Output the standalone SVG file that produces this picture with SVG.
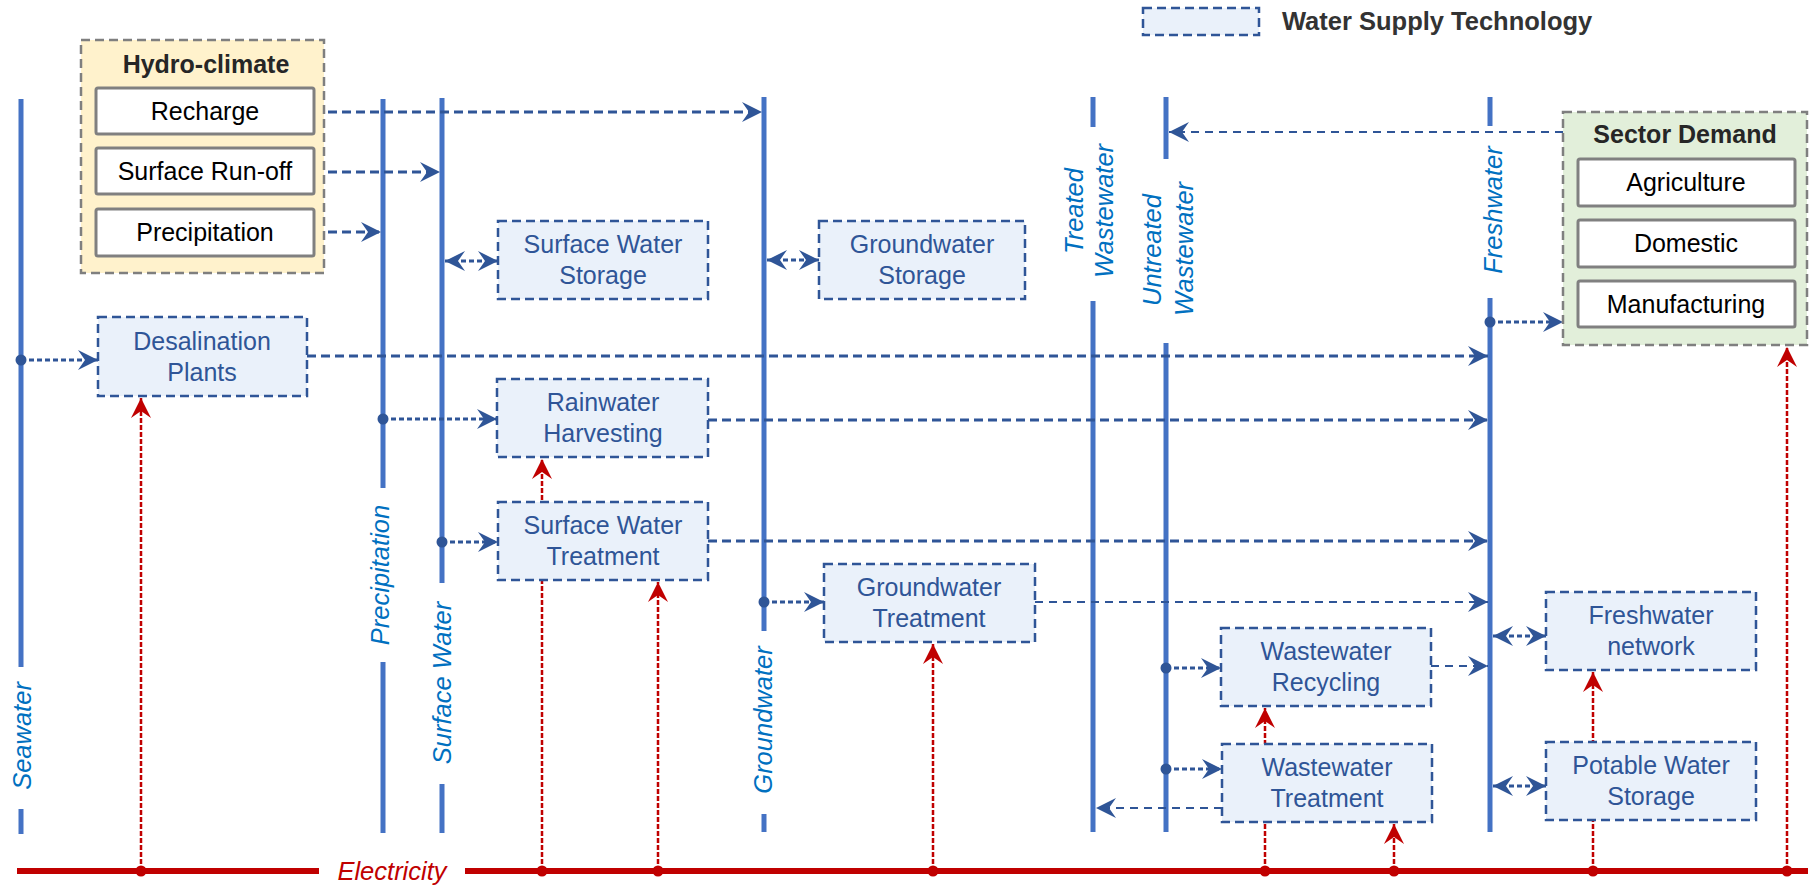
<svg xmlns="http://www.w3.org/2000/svg" width="1812" height="887" viewBox="0 0 1812 887">
  <style>
    text { font-family: "Liberation Sans", Arial, sans-serif; }
    .bus { stroke: #4472C4; stroke-width: 5; fill: none; }
    .buslabel { font-size: 25.5px; font-style: italic; fill: #0070C0; }
    .tech { fill: #EAF1FA; stroke: #2F5597; stroke-width: 2.5; stroke-dasharray: 9 5; }
    .techtxt { font-size: 25px; fill: #2F5597; text-anchor: middle; }
    .group { stroke: #7F7F7F; stroke-width: 2.5; stroke-dasharray: 9 5; }
    .item { fill: #FFFFFF; stroke: #808080; stroke-width: 3; }
    .itemtxt { font-size: 25px; fill: #000000; text-anchor: middle; }
    .title { font-size: 25px; font-weight: bold; fill: #262626; text-anchor: middle; }
    .flow { fill: none; stroke: #2F5597; stroke-width: 3; stroke-dasharray: 9 5; }
    .flow.thin { stroke-width: 2; stroke-dasharray: 8 6; }
    .flow.short { stroke-dasharray: 5 3; }
    .power { fill: none; stroke: #C00000; stroke-width: 2.5; stroke-dasharray: 5 2; marker-end: url(#headRed); }
    .dot { fill: #2F5597; }
    .rdot { fill: #C00000; }
  </style>
  <defs>
    <marker id="head" viewBox="0 0 20 20" refX="20" refY="10" markerWidth="20" markerHeight="20" markerUnits="userSpaceOnUse" orient="auto-start-reverse">
      <path d="M0,0 L20,10 L0,20 L7,10 Z" fill="#2F5597"/>
    </marker>
    <marker id="headRed" viewBox="0 0 20 20" refX="20" refY="10" markerWidth="20" markerHeight="20" markerUnits="userSpaceOnUse" orient="auto">
      <path d="M0,0 L20,10 L0,20 L7,10 Z" fill="#C00000"/>
    </marker>
  </defs>

  <rect width="1812" height="887" fill="#FFFFFF"/>

  <!-- legend -->
  <g id="legend">
    <rect class="tech" x="1143" y="8" width="116" height="27"/>
    <text x="1282" y="30" font-size="25.5" font-weight="bold" fill="#333333">Water Supply Technology</text>
  </g>

  <!-- water carrier buses -->
  <g id="bus-seawater">
    <path class="bus" d="M21,99 V667 M21,809 V834"/>
    <text class="buslabel" transform="translate(31,736) rotate(-90)" text-anchor="middle">Seawater</text>
  </g>
  <g id="bus-precipitation">
    <path class="bus" d="M383,99 V488 M383,662 V833"/>
    <text class="buslabel" transform="translate(389,575) rotate(-90)" text-anchor="middle">Precipitation</text>
  </g>
  <g id="bus-surface-water">
    <path class="bus" d="M442,98 V583 M442,784 V833"/>
    <text class="buslabel" transform="translate(451,683) rotate(-90)" text-anchor="middle">Surface Water</text>
  </g>
  <g id="bus-groundwater">
    <path class="bus" d="M764,97 V631 M764,814 V832"/>
    <text class="buslabel" transform="translate(772,720) rotate(-90)" text-anchor="middle">Groundwater</text>
  </g>
  <g id="bus-treated-wastewater">
    <path class="bus" d="M1093,97 V127 M1093,301 V832"/>
    <text class="buslabel" transform="translate(1083,211) rotate(-90)" text-anchor="middle">Treated</text>
    <text class="buslabel" transform="translate(1113,211) rotate(-90)" text-anchor="middle">Wastewater</text>
  </g>
  <g id="bus-untreated-wastewater">
    <path class="bus" d="M1166,97 V159 M1166,343 V832"/>
    <text class="buslabel" transform="translate(1161,250) rotate(-90)" text-anchor="middle">Untreated</text>
    <text class="buslabel" transform="translate(1193,249) rotate(-90)" text-anchor="middle">Wastewater</text>
  </g>
  <g id="bus-freshwater">
    <path class="bus" d="M1490,97 V126 M1490,298 V832"/>
    <text class="buslabel" transform="translate(1502,210) rotate(-90)" text-anchor="middle">Freshwater</text>
  </g>

  <!-- electricity supply line -->
  <g id="bus-electricity">
    <path d="M17,871 H319 M465,871 H1808" stroke="#C00000" stroke-width="6" fill="none"/>
    <text x="392" y="880" font-size="25.5" font-style="italic" fill="#C00000" text-anchor="middle">Electricity</text>
  </g>

  <!-- flows and energy supply -->
  <g id="connectors">
    <path class="flow" d="M314,112 H762" marker-end="url(#head)"/>
    <path class="flow" d="M314,172 H440" marker-end="url(#head)"/>
    <path class="flow" d="M314,232 H381" marker-end="url(#head)"/>
    <path class="flow short" d="M445,261 H498" marker-start="url(#head)" marker-end="url(#head)"/>
    <path class="flow short" d="M767,260 H819" marker-start="url(#head)" marker-end="url(#head)"/>
    <path class="flow short" d="M21,360 H98" marker-end="url(#head)"/>
    <path class="flow" d="M307,356 H1488" marker-end="url(#head)"/>
    <path class="flow short" d="M383,419 H497" marker-end="url(#head)"/>
    <path class="flow" d="M708,420 H1488" marker-end="url(#head)"/>
    <path class="flow short" d="M442,542 H498" marker-end="url(#head)"/>
    <path class="flow" d="M708,541 H1488" marker-end="url(#head)"/>
    <path class="flow short" d="M764,602 H824" marker-end="url(#head)"/>
    <path class="flow thin" d="M1035,602 H1488" marker-end="url(#head)"/>
    <path class="flow short" d="M1166,668 H1221" marker-end="url(#head)"/>
    <path class="flow thin" d="M1431,666 H1488" marker-end="url(#head)"/>
    <path class="flow short" d="M1166,769 H1222" marker-end="url(#head)"/>
    <path class="flow thin" d="M1222,808 H1096" marker-end="url(#head)"/>
    <path class="flow short" d="M1493,636 H1546" marker-start="url(#head)" marker-end="url(#head)"/>
    <path class="flow short" d="M1493,786 H1546" marker-start="url(#head)" marker-end="url(#head)"/>
    <path class="flow short" d="M1490,322 H1563" marker-end="url(#head)"/>
    <path class="flow thin" d="M1563,132 H1169" marker-end="url(#head)"/>

    <circle class="dot" cx="21" cy="360" r="5.5"/>
    <circle class="dot" cx="383" cy="419" r="5.5"/>
    <circle class="dot" cx="442" cy="542" r="5.5"/>
    <circle class="dot" cx="764" cy="602" r="5.5"/>
    <circle class="dot" cx="1166" cy="668" r="5.5"/>
    <circle class="dot" cx="1166" cy="769" r="5.5"/>
    <circle class="dot" cx="1490" cy="322" r="5.5"/>

    <path class="power" d="M141,871 V398"/>
    <path class="power" d="M542,871 V459"/>
    <path class="power" d="M658,871 V582"/>
    <path class="power" d="M933,871 V644"/>
    <path class="power" d="M1265,871 V708"/>
    <path class="power" d="M1394,871 V824"/>
    <path class="power" d="M1593,871 V672"/>
    <path class="power" d="M1787,871 V347"/>

    <circle class="rdot" cx="141" cy="871" r="5.5"/>
    <circle class="rdot" cx="542" cy="871" r="5.5"/>
    <circle class="rdot" cx="658" cy="871" r="5.5"/>
    <circle class="rdot" cx="933" cy="871" r="5.5"/>
    <circle class="rdot" cx="1265" cy="871" r="5.5"/>
    <circle class="rdot" cx="1394" cy="871" r="5.5"/>
    <circle class="rdot" cx="1593" cy="871" r="5.5"/>
    <circle class="rdot" cx="1787" cy="871" r="5.5"/>
  </g>

  <!-- hydro-climate drivers -->
  <g id="hydro-climate">
    <rect class="group" x="81" y="40" width="243" height="233" fill="#FFF2CC"/>
    <text class="title" x="206" y="73">Hydro-climate</text>
    <rect class="item" x="96" y="88" width="218" height="46" rx="2"/>
    <text class="itemtxt" x="205" y="120">Recharge</text>
    <rect class="item" x="96" y="148" width="218" height="46" rx="2"/>
    <text class="itemtxt" x="205" y="180">Surface Run-off</text>
    <rect class="item" x="96" y="209" width="218" height="47" rx="2"/>
    <text class="itemtxt" x="205" y="241">Precipitation</text>
  </g>

  <!-- sector demand -->
  <g id="sector-demand">
    <rect class="group" x="1563" y="112" width="244" height="233" fill="#E2EFDA"/>
    <text class="title" x="1685" y="143">Sector Demand</text>
    <rect class="item" x="1578" y="159" width="217" height="47" rx="2"/>
    <text class="itemtxt" x="1686" y="191">Agriculture</text>
    <rect class="item" x="1578" y="220" width="217" height="47" rx="2"/>
    <text class="itemtxt" x="1686" y="252">Domestic</text>
    <rect class="item" x="1578" y="281" width="217" height="46" rx="2"/>
    <text class="itemtxt" x="1686" y="313">Manufacturing</text>
  </g>

  <!-- water supply technologies -->
  <g id="desalination">
    <rect class="tech" x="98" y="317" width="209" height="79"/>
    <text class="techtxt" x="202" y="350">Desalination</text>
    <text class="techtxt" x="202" y="381">Plants</text>
  </g>
  <g id="surface-water-storage">
    <rect class="tech" x="498" y="221" width="210" height="78"/>
    <text class="techtxt" x="603" y="253">Surface Water</text>
    <text class="techtxt" x="603" y="284">Storage</text>
  </g>
  <g id="groundwater-storage">
    <rect class="tech" x="819" y="221" width="206" height="78"/>
    <text class="techtxt" x="922" y="253">Groundwater</text>
    <text class="techtxt" x="922" y="284">Storage</text>
  </g>
  <g id="rainwater-harvesting">
    <rect class="tech" x="497" y="379" width="211" height="78"/>
    <text class="techtxt" x="603" y="411">Rainwater</text>
    <text class="techtxt" x="603" y="442">Harvesting</text>
  </g>
  <g id="surface-water-treatment">
    <rect class="tech" x="498" y="502" width="210" height="78"/>
    <text class="techtxt" x="603" y="534">Surface Water</text>
    <text class="techtxt" x="603" y="565">Treatment</text>
  </g>
  <g id="groundwater-treatment">
    <rect class="tech" x="824" y="564" width="211" height="78"/>
    <text class="techtxt" x="929" y="596">Groundwater</text>
    <text class="techtxt" x="929" y="627">Treatment</text>
  </g>
  <g id="wastewater-recycling">
    <rect class="tech" x="1221" y="628" width="210" height="78"/>
    <text class="techtxt" x="1326" y="660">Wastewater</text>
    <text class="techtxt" x="1326" y="691">Recycling</text>
  </g>
  <g id="wastewater-treatment">
    <rect class="tech" x="1222" y="744" width="210" height="78"/>
    <text class="techtxt" x="1327" y="776">Wastewater</text>
    <text class="techtxt" x="1327" y="807">Treatment</text>
  </g>
  <g id="freshwater-network">
    <rect class="tech" x="1546" y="592" width="210" height="78"/>
    <text class="techtxt" x="1651" y="624">Freshwater</text>
    <text class="techtxt" x="1651" y="655">network</text>
  </g>
  <g id="potable-water-storage">
    <rect class="tech" x="1546" y="742" width="210" height="78"/>
    <text class="techtxt" x="1651" y="774">Potable Water</text>
    <text class="techtxt" x="1651" y="805">Storage</text>
  </g>
</svg>
